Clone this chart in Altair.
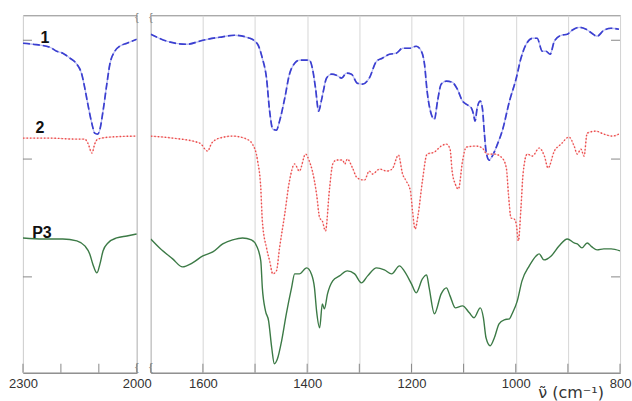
import altair as alt
import pandas as pd

# ---------------- data (wavenumber in cm^-1, offset transmittance in arbitrary units) -------------
t1_wn = [2300, 2274, 2229, 2211, 2195, 2176, 2158, 2145, 2137, 2129, 2118, 2111, 2103, 2097, 2089,
         2079, 2071, 2058, 2045, 2026, 2000,
         1700, 1669, 1631, 1600, 1568, 1539, 1510, 1495, 1486, 1478, 1472, 1466, 1459, 1453, 1443,
         1434, 1424, 1415, 1396, 1390, 1384, 1378, 1373, 1369, 1363, 1353, 1344, 1334, 1325, 1315,
         1304, 1294, 1281, 1267, 1256, 1242, 1229, 1217, 1204, 1191, 1181, 1175, 1170, 1162, 1156,
         1150, 1143, 1133, 1122, 1112, 1102, 1095, 1085, 1081, 1078, 1074, 1068, 1064, 1060, 1057,
         1051, 1045, 1035, 1026, 1012, 999, 990, 980, 968, 959, 949, 942, 934, 926, 913, 901, 892,
         878, 865, 854, 844, 831, 817, 802]
t1_val = [330, 329, 326, 322, 320, 315, 309, 299, 285, 269, 249, 240, 239, 244, 262,
          289, 309, 322, 327, 330, 334,
          339, 332, 329, 333, 336, 338, 335, 329, 315, 295, 262, 244, 243, 252, 275,
          299, 310, 313, 313, 305, 285, 262, 272, 282, 295, 299, 298, 295, 300, 299,
          290, 289, 295, 312, 315, 319, 320, 325, 325, 327, 322, 309, 282, 259, 254,
          272, 289, 292, 291, 284, 272, 269, 265, 259, 252, 265, 272, 265, 239, 222,
          213, 217, 229, 242, 272, 295, 315, 329, 335, 335, 322, 322, 319, 332, 338, 339, 343,
          346, 344, 340, 337, 343, 345, 344]

t2_wn = [2300, 2229, 2163, 2137, 2129, 2118, 2111, 2103, 2071, 2000,
         1700, 1658, 1606, 1591, 1583, 1568, 1543, 1516, 1505, 1495, 1489, 1486, 1478, 1472, 1466,
         1459, 1453, 1443, 1434, 1424, 1415, 1403, 1396, 1390, 1382, 1376, 1371, 1365, 1357, 1351,
         1344, 1332, 1328, 1323, 1313, 1304, 1290, 1281, 1275, 1261, 1248, 1237, 1225, 1217, 1210,
         1202, 1198, 1193, 1187, 1179, 1170, 1156, 1143, 1133, 1126, 1122, 1116, 1110, 1102, 1095,
         1076, 1064, 1055, 1041, 1026, 1018, 1014, 1009, 1003, 999, 995, 990, 986, 978, 968, 955,
         945, 938, 926, 913, 898, 888, 882, 875, 869, 863, 846, 831, 815, 802]
t2_val = [235, 235, 234, 234, 230, 220, 229, 234, 236, 237,
          237, 235, 230, 222, 230, 235, 237, 234, 229, 212, 185, 152, 125, 112, 99,
          102, 125, 159, 192, 209, 202, 219, 212, 202, 179, 155, 152, 142, 185, 209,
          213, 213, 209, 214, 205, 195, 193, 202, 199, 204, 202, 204, 218, 199, 192,
          182, 162, 144, 159, 192, 219, 221, 227, 229, 224, 202, 189, 184, 212, 226,
          227, 225, 219, 219, 215, 205, 179, 155, 154, 149, 132, 165, 199, 219, 217, 225,
          217, 205, 222, 229, 236, 227, 219, 224, 217, 240, 242, 239, 237, 239]

t3_wn = [2300, 2247, 2195, 2158, 2137, 2124, 2116, 2105, 2097, 2089, 2076, 2053, 2026, 2000,
         1700, 1683, 1658, 1639, 1620, 1600, 1581, 1562, 1543, 1524, 1507, 1497, 1489, 1486, 1480,
         1474, 1468, 1463, 1457, 1449, 1440, 1430, 1424, 1415, 1401, 1392, 1386, 1382, 1376, 1371,
         1367, 1361, 1351, 1338, 1323, 1309, 1296, 1284, 1267, 1252, 1238, 1223, 1214, 1200, 1191,
         1179, 1171, 1166, 1156, 1143, 1133, 1126, 1116, 1102, 1089, 1080, 1068, 1062, 1057, 1049,
         1041, 1032, 1022, 1012, 1007, 997, 988, 974, 961, 955, 946, 932, 917, 901, 888, 882, 873,
         863, 854, 844, 831, 817, 800]
t3_val = [135, 134, 134, 132, 127, 119, 109, 100, 109, 122, 130, 135, 137, 139,
          134, 125, 114, 106, 110, 117, 121, 129, 133, 135, 133, 127, 112, 85, 62,
          52, 25, 9, 14, 32, 59, 85, 99, 99, 105, 99, 85, 62, 45, 69,
          64, 79, 92, 97, 102, 99, 90, 97, 105, 103, 99, 107, 102, 89, 80,
          94, 98, 85, 59, 79, 85, 77, 65, 67, 60, 55, 65, 55, 35, 27,
          35, 49, 53, 54, 59, 72, 92, 107, 117, 119, 113, 117, 127, 134, 130, 129, 125,
          130, 126, 123, 124, 124, 122]

trace_names = ["1", "2", "P3"]
label_wn = [2242, 2255, 2250]
label_val = [335, 245, 140]

left_ticks = [2300, 2200, 2100, 2000]
right_ticks = [1700, 1600, 1500, 1400, 1300, 1200, 1100, 1000, 900, 800]
y_ticks = [96, 214, 333]
y_domain = [0, 358]
left_domain = [2000, 2300]
right_domain = [800, 1700]

# ---------------- tables ----------------
rows = []
for name, wns, vals in zip(trace_names, [t1_wn, t2_wn, t3_wn], [t1_val, t2_val, t3_val]):
    for w, v in zip(wns, vals):
        rows.append({"trace": name, "wn": w, "val": v})
spec = pd.DataFrame(rows)
labels = pd.DataFrame({"trace": trace_names, "wn": label_wn, "val": label_val})
yt = pd.DataFrame({"val": y_ticks})

WL, WR, H = 114, 470, 358
FONT = "Liberation Sans"


def panel(domain, ticks, width, side):
    lo, hi = domain
    d = spec[(spec.wn >= lo) & (spec.wn <= hi)]
    xs = alt.Scale(domain=domain, reverse=True, nice=False, zero=False)
    ys = alt.Scale(domain=y_domain, nice=False, zero=False)
    if side == "left":
        label_expr = "datum.label"
    else:
        label_expr = "datum.value % 200 == 0 && datum.value < 1700 ? datum.label : ''"
    xax = alt.Axis(values=ticks, format="d", grid=True, gridColor="#d6d6d6", gridWidth=1,
                   ticks=False, domain=True, domainColor="#888", labelFontSize=13,
                   labelColor="#333", labelFont=FONT, labelPadding=5, labelFlush=False,
                   labelOverlap=False, labelExpr=label_expr, title=None)
    base = alt.Chart(d)
    X = alt.X("wn:Q", scale=xs, axis=xax)
    Y = alt.Y("val:Q", scale=ys, axis=None)
    interp = "monotone"

    b_light = base.transform_filter("datum.trace == '1'").mark_line(
        color="#b9bdf2", strokeWidth=1.3, clip=True, interpolate=interp).encode(x=X, y=Y)
    b_dash = base.transform_filter("datum.trace == '1'").mark_line(
        color="#3b3fd0", strokeWidth=1.7, strokeDash=[7, 3], clip=True,
        interpolate=interp).encode(x=X, y=Y)
    r_light = base.transform_filter("datum.trace == '2'").mark_line(
        color="#f8cccc", strokeWidth=1.0, clip=True, interpolate=interp).encode(x=X, y=Y)
    r_dot = base.transform_filter("datum.trace == '2'").mark_line(
        color="#ec4a4a", strokeWidth=1.4, strokeDash=[1.5, 2], clip=True,
        interpolate=interp).encode(x=X, y=Y)
    g = base.transform_filter("datum.trace == 'P3'").mark_line(
        color="#3c7a46", strokeWidth=1.4, clip=True, interpolate=interp).encode(x=X, y=Y)

    xt = alt.Chart(pd.DataFrame({"wn": ticks})).mark_rule(color="#888", strokeWidth=1).encode(
        x=alt.X("wn:Q", scale=xs), y=alt.value(H - 9), y2=alt.value(H))
    if side == "left":
        ytk = alt.Chart(yt).mark_rule(color="#888").encode(
            y=alt.Y("val:Q", scale=ys), x=alt.value(0), x2=alt.value(9))
        brk_x = width
    else:
        ytk = alt.Chart(yt).mark_rule(color="#888").encode(
            y=alt.Y("val:Q", scale=ys), x=alt.value(width - 9), x2=alt.value(width))
        brk_x = 0
    brk = alt.Chart(pd.DataFrame({"p": [3, H - 5]})).mark_text(
        text="{", fontSize=11, color="#888", font=FONT).encode(
        x=alt.value(brk_x), y=alt.Y("p:Q", scale=None))
    layers = [b_light, b_dash, r_light, r_dot, g, xt, ytk, brk]
    if side == "left":
        lab = alt.Chart(labels).mark_text(fontSize=16, fontWeight="bold", color="#111",
                                          font=FONT).encode(
            x=alt.X("wn:Q", scale=xs), y=alt.Y("val:Q", scale=ys), text="trace:N")
        layers.append(lab)
    else:
        title = alt.Chart(pd.DataFrame({"t": ["\u03bd\u0303 (cm\u207b\u00b9)"]})).mark_text(
            fontSize=16, color="#333", font="DejaVu Sans").encode(
            x=alt.value(421), y=alt.value(H + 20), text="t:N")
        layers.append(title)
    return alt.layer(*layers).properties(width=width, height=H)


left = panel(left_domain, left_ticks, WL, "left")
right = panel(right_domain, right_ticks, WR, "right")

chart = alt.hconcat(left, right, spacing=14, bounds="flush").properties(
    padding={"left": 8, "top": 11, "right": 0, "bottom": 0}
).configure_view(stroke="#888", strokeWidth=1)

chart.save("out.html", embed_options={"renderer": "svg", "actions": False})
